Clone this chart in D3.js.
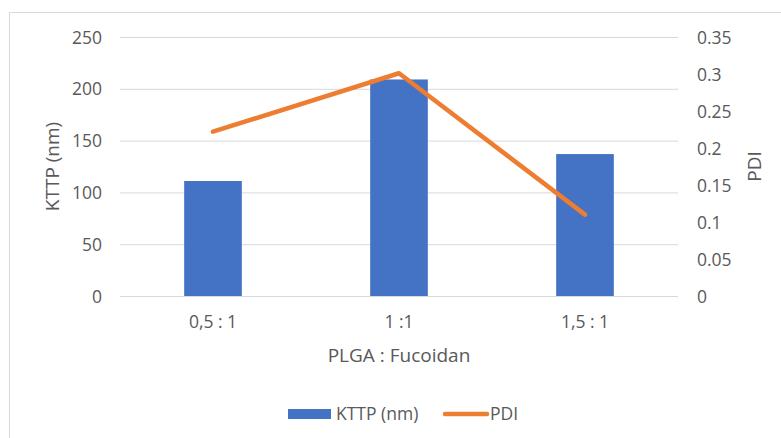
<!DOCTYPE html>
<html><head><meta charset="utf-8">
<script src="https://cdn.jsdelivr.net/npm/d3@7"></script>
<style>body{margin:0;background:#fff}svg{display:block}text{font-family:"Open Sans",sans-serif;fill:#595959}</style>
</head><body><svg id="c" width="781" height="438"></svg>
<script>
const categories = ["0,5 : 1", "1 :1", "1,5 : 1"];
const kttp = [111, 209, 137];
const pdi = [0.222, 0.301, 0.11];
const leftTicks = [0, 50, 100, 150, 200, 250];
const rightTicks = [0, 0.05, 0.1, 0.15, 0.2, 0.25, 0.3, 0.35];

const svg = d3.select("#c");
const m = {l:120, r:678, t:37, b:296};
svg.append("rect").attr("x",9.5).attr("y",12.5).attr("width",800).attr("height",500)
  .attr("fill","none").attr("stroke","#d9d9d9");

const x = d3.scaleBand().domain(categories).range([m.l, m.r]).paddingInner(0.69).paddingOuter(0.345);
const yL = d3.scaleLinear().domain([0,250]).range([m.b, m.t]);
const yR = d3.scaleLinear().domain([0,0.35]).range([m.b, m.t]);

// gridlines
svg.append("g").selectAll("line").data(leftTicks).join("line")
  .attr("x1",m.l).attr("x2",m.r).attr("y1",d=>yL(d)+0.5).attr("y2",d=>yL(d)+0.5)
  .attr("stroke","#d9d9d9").attr("stroke-width",1);

// left axis
const gl = svg.append("g").attr("transform",`translate(${m.l-18},0)`)
  .call(d3.axisLeft(yL).tickValues(leftTicks).tickSize(0).tickPadding(0));
gl.select(".domain").remove();
gl.selectAll("text").style("font-size","17.5px").attr("fill","#595959").attr("dy","0.35em");

// right axis
const gr = svg.append("g").attr("transform",`translate(${m.r+19},0)`)
  .call(d3.axisRight(yR).tickValues(rightTicks).tickSize(0).tickPadding(0).tickFormat(d=>String(+d.toFixed(2))));
gr.select(".domain").remove();
gr.selectAll("text").style("font-size","17.5px").attr("fill","#595959").attr("dy","0.35em");

// bottom axis
const gb = svg.append("g").attr("transform",`translate(0,${m.b})`)
  .call(d3.axisBottom(x).tickSize(0).tickPadding(20));
gb.select(".domain").remove();
gb.selectAll("text").style("font-size","17.5px").attr("fill","#595959");

// bars
svg.append("g").selectAll("rect").data(kttp).join("rect")
  .attr("x",(d,i)=>x(categories[i])).attr("width",x.bandwidth())
  .attr("y",d=>yL(d)).attr("height",d=>yL(0)-yL(d)).attr("fill","#4472c4");

// line
const line = d3.line().x((d,i)=>x(categories[i])+x.bandwidth()/2).y(d=>yR(d));
svg.append("path").datum(pdi).attr("d",line).attr("fill","none")
  .attr("stroke","#ed7d31").attr("stroke-width",4.5).attr("stroke-linecap","round").attr("stroke-linejoin","round");

// axis titles
svg.append("text").attr("transform",`translate(59,${(m.t+m.b)/2}) rotate(-90)`)
  .attr("text-anchor","middle").style("font-size","19px").text("KTTP (nm)");
svg.append("text").attr("transform",`translate(761,${(m.t+m.b)/2}) rotate(-90)`)
  .attr("text-anchor","middle").style("font-size","19px").text("PDI");
svg.append("text").attr("x",(m.l+m.r)/2).attr("y",362).attr("text-anchor","middle")
  .style("font-size","19px").text("PLGA : Fucoidan");

// legend
const lg = svg.append("g");
lg.append("rect").attr("x",288).attr("y",409).attr("width",43).attr("height",10).attr("fill","#4472c4");
lg.append("text").attr("x",336).attr("y",420).style("font-size","17.5px").text("KTTP (nm)");
lg.append("line").attr("x1",445).attr("x2",487).attr("y1",414).attr("y2",414)
  .attr("stroke","#ed7d31").attr("stroke-width",4.5).attr("stroke-linecap","round");
lg.append("text").attr("x",490).attr("y",420).style("font-size","17.5px").text("PDI");
</script></body></html>
